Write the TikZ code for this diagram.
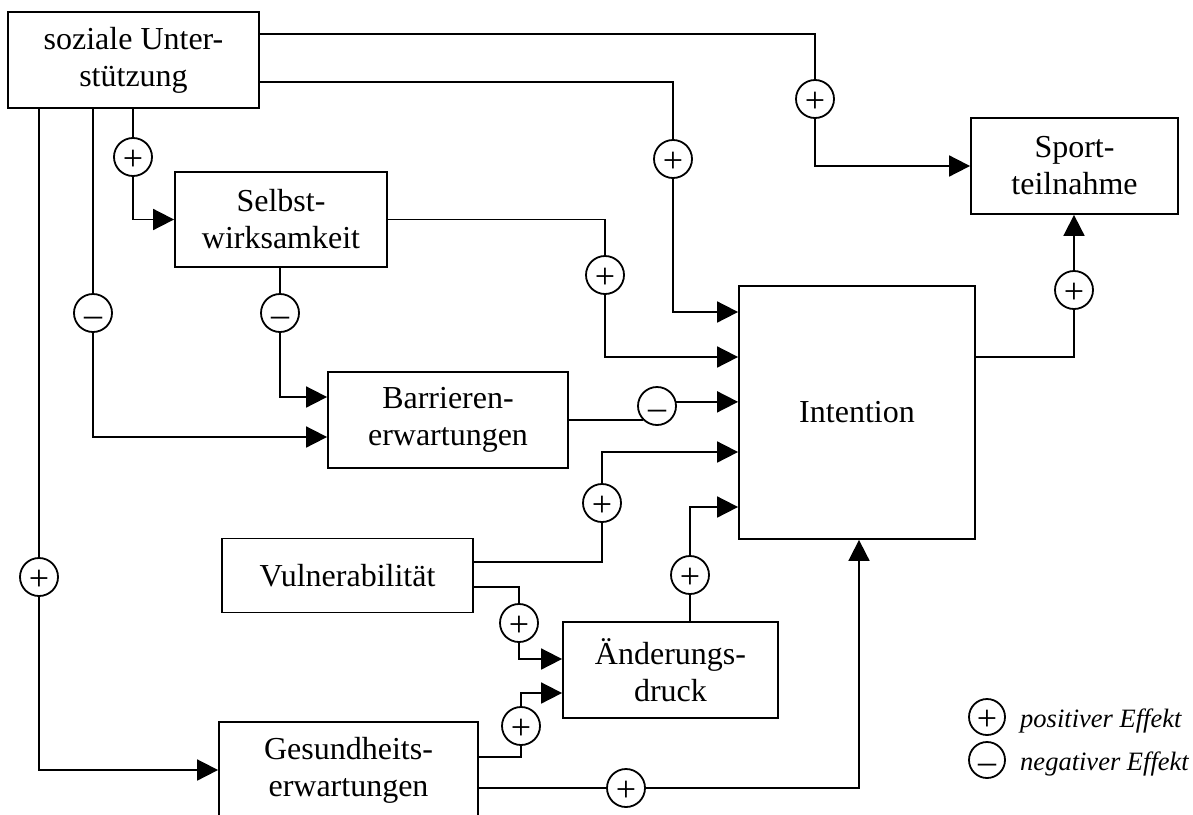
\documentclass[tikz,border=0pt]{standalone}
\usepackage{fontspec}
\setmainfont{Liberation Serif}
\usetikzlibrary{arrows.meta}
\begin{document}
\begin{tikzpicture}[x=1pt,y=-1pt,
  font=\fontsize{32}{37}\selectfont,
  line width=1.8pt,
  box/.style={draw,rectangle,align=center,inner sep=0pt},
  sign/.style={draw,circle,minimum size=38pt,inner sep=0pt,
    font=\fontsize{36}{40}\selectfont,text height=26pt,text depth=0pt},
  keysign/.style={sign,minimum size=36pt},
  arr/.style={-{Triangle[length=21pt,width=21pt]}}]
\useasboundingbox (0,0) rectangle (1193,814);
\clip (0,0) rectangle (1193,814);

% boxes
\node[box,minimum width=251pt,minimum height=96pt] (soz) at (133.5,60) {soziale Unter-\\stützung};
\node[box,minimum width=212pt,minimum height=95pt] (selbst) at (281,219.5) {Selbst-\\wirksamkeit};
\node[box,minimum width=207pt,minimum height=96pt] (sport) at (1074.5,166) {Sport-\\teilnahme};
\node[box,minimum width=236pt,minimum height=253pt] (intent) at (857,412.5) {Intention};
\node[box,minimum width=240pt,minimum height=96pt] (barr) at (448,420) {Barrieren-\\erwartungen};
\node[box,minimum width=251pt,minimum height=74pt] (vul) at (347.5,575.5) {Vulnerabilität};
\node[box,minimum width=215pt,minimum height=96pt] (aend) at (670.5,670) {Änderungs-\\druck};
\node[box,minimum width=259pt,minimum height=96pt] (ges) at (348.5,770) {Gesundheits-\\erwartungen};

% effect signs
\node[sign] (c1) at (815,99) {+};
\node[sign] (c2) at (673,159) {+};
\node[sign] (c3) at (133,157) {+};
\node[sign] (c4) at (93,313) {–};
\node[sign] (c5) at (39,577) {+};
\node[sign] (c6) at (605,275) {+};
\node[sign] (c7) at (280,313) {–};
\node[sign] (c8) at (657,406) {–};
\node[sign] (c9) at (602,503) {+};
\node[sign] (c10) at (519,623) {+};
\node[sign] (c11) at (690,575) {+};
\node[sign] (c12) at (521,726) {+};
\node[sign] (c13) at (626,788) {+};
\node[sign] (c14) at (1074,290) {+};

% connectors
\draw (soz.east |- 0,34) -| (c1.north);
\draw[arr] (c1.south) |- (sport.west);
\draw (soz.east |- 0,82) -| (c2.north);
\draw[arr] (c2.south) |- (intent.west |- 0,312);
\draw (soz.south -| c3) -- (c3.north);
\draw[arr] (c3.south) |- (selbst.west);
\draw (soz.south -| c4) -- (c4.north);
\draw[arr] (c4.south) |- (barr.west |- 0,437);
\draw (soz.south -| c5) -- (c5.north);
\draw[arr] (c5.south) |- (ges.west);
\draw (selbst.east) -| (c6.north);
\draw[arr] (c6.south) |- (intent.west |- 0,357);
\draw (selbst.south -| c7) -- (c7.north);
\draw[arr] (c7.south) |- (barr.west |- 0,397);
\draw (barr.east |- c8.225) -- (c8.225);
\draw[arr] (c8.12) -- (intent.west |- c8.12);
\draw (vul.east |- 0,562) -| (c9.south);
\draw[arr] (c9.north) |- (intent.west |- 0,452);
\draw (vul.east |- 0,587) -| (c10.north);
\draw[arr] (c10.south) |- (aend.west |- 0,659);
\draw (aend.north -| c11) -- (c11.south);
\draw[arr] (c11.north) |- (intent.west |- 0,507);
\draw (ges.east |- 0,757) -| (c12.south);
\draw[arr] (c12.north) |- (aend.west |- 0,693);
\draw (ges.east |- c13) -- (c13.west);
\draw[arr] (c13.east) -| ([xshift=2pt]intent.south);
\draw (intent.east |- 0,357) -| (c14.south);
\draw[arr] (c14.north) -- (sport.south -| c14);

% key
\node[keysign] (kp) at (987,717) {+};
\node[keysign] (km) at (987,760) {–};
\node[anchor=base west,font=\fontsize{26.5}{30}\selectfont\itshape] (kpt) at (1016,727) {positiver Effekt};
\node[anchor=base west,font=\fontsize{26.5}{30}\selectfont\itshape] (kmt) at (1016,770) {negativer Effekt};
\end{tikzpicture}
\end{document}
